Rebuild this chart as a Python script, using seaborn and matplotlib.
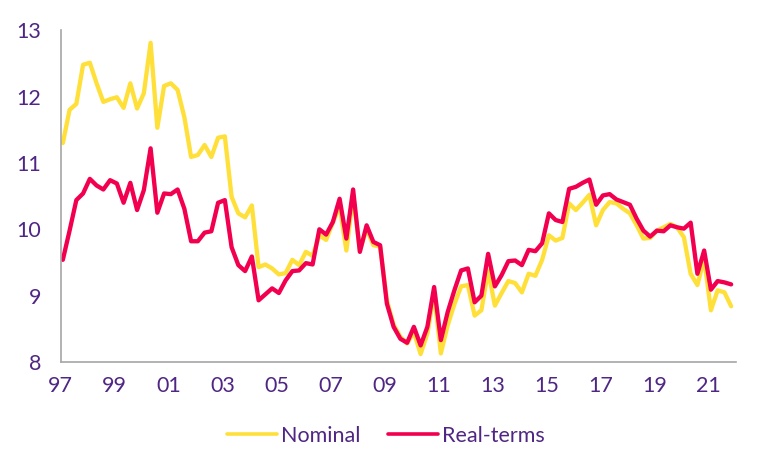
import numpy as np
import pandas as pd
import matplotlib
matplotlib.use("Agg")
import matplotlib.pyplot as plt
import seaborn as sns

# quarterly series, 1997 Q1 - 2021 Q4
nominal = [
    11.30, 11.80, 11.89, 12.48, 12.51, 12.20, 11.92, 11.96, 11.99, 11.83,
    12.20, 11.82, 12.05, 12.81, 11.53, 12.16, 12.20, 12.10, 11.69, 11.09,
    11.12, 11.27, 11.09, 11.38, 11.40, 10.49, 10.24, 10.18, 10.36, 9.43,
    9.47, 9.41, 9.32, 9.34, 9.54, 9.46, 9.66, 9.60, 9.91, 9.84,
    10.10, 10.36, 9.68, 10.51, 9.68, 10.01, 9.76, 9.74, 8.93, 8.56,
    8.38, 8.28, 8.45, 8.12, 8.43, 9.03, 8.13, 8.55, 8.87, 9.14,
    9.16, 8.70, 8.78, 9.38, 8.85, 9.04, 9.22, 9.19, 9.05, 9.33,
    9.30, 9.54, 9.91, 9.83, 9.87, 10.39, 10.29, 10.40, 10.52, 10.06,
    10.29, 10.41, 10.39, 10.31, 10.24, 10.06, 9.86, 9.87, 9.98, 10.03,
    10.08, 10.03, 9.88, 9.33, 9.16, 9.56, 8.78, 9.08, 9.05, 8.84,
]
real_terms = [
    9.54, 9.98, 10.44, 10.54, 10.76, 10.66, 10.60, 10.74, 10.69, 10.40,
    10.70, 10.29, 10.59, 11.22, 10.25, 10.54, 10.53, 10.60, 10.31, 9.82,
    9.82, 9.95, 9.97, 10.40, 10.44, 9.73, 9.46, 9.37, 9.59, 8.93,
    9.02, 9.11, 9.04, 9.23, 9.37, 9.38, 9.49, 9.47, 10.00, 9.92,
    10.11, 10.46, 9.86, 10.60, 9.66, 10.06, 9.81, 9.76, 8.88, 8.53,
    8.35, 8.29, 8.53, 8.25, 8.53, 9.13, 8.33, 8.75, 9.08, 9.38,
    9.41, 8.90, 9.00, 9.63, 9.14, 9.31, 9.52, 9.53, 9.46, 9.69,
    9.67, 9.79, 10.24, 10.14, 10.11, 10.61, 10.64, 10.70, 10.75, 10.37,
    10.51, 10.53, 10.45, 10.41, 10.37, 10.16, 9.98, 9.89, 9.98, 9.97,
    10.06, 10.03, 10.01, 10.10, 9.33, 9.68, 9.09, 9.22, 9.20, 9.17,
]
years = list(range(1997, 2023))
y_ticks = [8, 9, 10, 11, 12, 13]

YELLOW = "#ffe03a"
RED = "#f2004f"
PURPLE = "#4f2683"
GREY = "#a6a6a6"

n = len(nominal)
t = 1997.08 + np.arange(n) / 4
df = pd.DataFrame({
    "t": np.concatenate([t, t]),
    "value": nominal + real_terms,
    "series": ["Nominal"] * n + ["Real-terms"] * n,
})

sns.set_style("white")
plt.rcParams["font.family"] = ["Lato", "DejaVu Sans"]

fig = plt.figure(figsize=(7.68, 4.72), dpi=100)
ax = fig.add_axes([0.079, 0.233, 0.879, 0.703])

sns.lineplot(data=df, x="t", y="value", hue="series",
             palette={"Nominal": YELLOW, "Real-terms": RED},
             linewidth=3.1, ax=ax)

ax.set_xlim(1997, 2022)
ax.set_ylim(8, 13)
ax.set_yticks(y_ticks)
ax.set_yticklabels([str(v) for v in y_ticks])
ax.set_xticks(years)
ax.set_xticklabels([f"{y % 100:02d}" if (y - 1997) % 2 == 0 else "" for y in years])
ax.set_xlabel("")
ax.set_ylabel("")

for s in ["top", "right"]:
    ax.spines[s].set_visible(False)
for s in ["left", "bottom"]:
    ax.spines[s].set_color(GREY)
    ax.spines[s].set_linewidth(1.2)
ax.tick_params(axis="both", direction="out", length=5, width=1.2, color=GREY,
               labelcolor=PURPLE, labelsize=15.5)
ax.tick_params(axis="y", pad=9)
ax.tick_params(axis="x", pad=5)

leg = ax.legend(loc="center", bbox_to_anchor=(0.482, -0.222), ncol=2,
                frameon=False, fontsize=15.5, handlelength=2.3, columnspacing=1.3,
                handletextpad=0.2)
for line in leg.get_lines():
    line.set_linewidth(2.6)
for txt in leg.get_texts():
    txt.set_color(PURPLE)

fig.savefig("out.png", dpi=100)
